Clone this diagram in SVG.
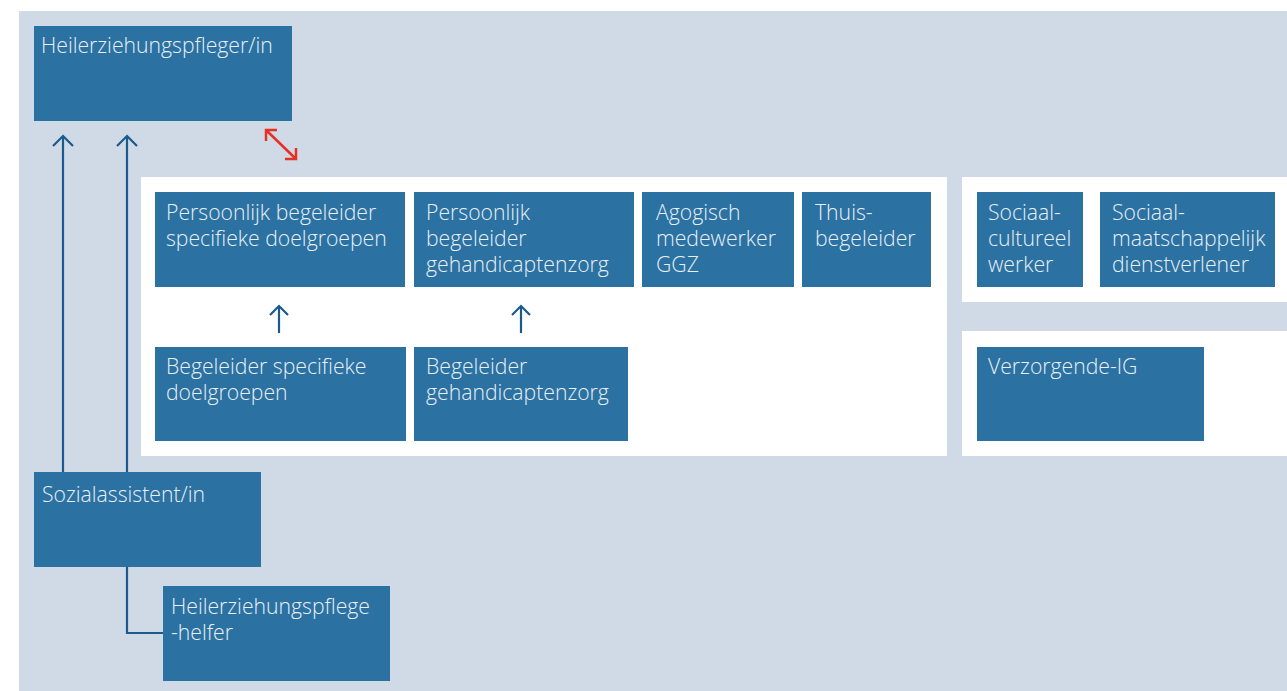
<svg xmlns="http://www.w3.org/2000/svg" width="1287" height="691" viewBox="0 0 1287 691">
<style>
.bg{fill:#D0DAE6}
.panel{fill:#FFFFFF}
.box{fill:#2B72A2}
.t{font-family:"Open Sans",Lato,"Liberation Sans",sans-serif;font-weight:300;font-size:21.2px;fill:#E9EFF6}
.c{fill:none;stroke:#1B5A8C;stroke-width:2.2}
.r{fill:none;stroke:#E62F25;stroke-width:2.5}
</style>
<rect width="1287" height="691" fill="#FFFFFF"/>
<rect class="bg" x="19" y="11" width="1268" height="680"/>
<rect class="panel" x="141" y="177" width="806" height="279"/>
<rect class="panel" x="962" y="177" width="325" height="125"/>
<rect class="panel" x="962" y="331" width="325" height="125"/>
<g id="connectors">
<path class="c" d="M63 472V136M53 146L63 136L73 146"/>
<path class="c" d="M127 472V136M117 146L127 136L137 146"/>
<path class="c" d="M127 567V633H163"/>
<path class="c" d="M279 333V306M270 315L279 306L288 315"/>
<path class="c" d="M521 333V306M512 315L521 306L530 315"/>
<path class="r" d="M266 130L296 159M266 141V130H277M296 148V159H285"/>
</g>
<g id="n-hep">
<rect class="box" x="34" y="26" width="258" height="95"/>
<text class="t" x="41" y="53">Heilerziehungspfleger/in</text>
</g>
<g id="n-pbsd">
<rect class="box" x="155" y="192" width="250" height="95"/>
<text class="t" x="166" y="220">Persoonlijk begeleider<tspan x="166" dy="26">specifieke doelgroepen</tspan></text>
</g>
<g id="n-pbg">
<rect class="box" x="414" y="192" width="220" height="95"/>
<text class="t" x="426" y="220">Persoonlijk<tspan x="426" dy="26">begeleider</tspan><tspan x="426" dy="26">gehandicaptenzorg</tspan></text>
</g>
<g id="n-agogisch">
<rect class="box" x="642" y="192" width="152" height="95"/>
<text class="t" x="656" y="220">Agogisch<tspan x="656" dy="26">medewerker</tspan><tspan x="656" dy="26">GGZ</tspan></text>
</g>
<g id="n-thuis">
<rect class="box" x="802" y="192" width="129" height="95"/>
<text class="t" x="815" y="220">Thuis-<tspan x="815" dy="26">begeleider</tspan></text>
</g>
<g id="n-scw">
<rect class="box" x="977" y="192" width="106" height="95"/>
<text class="t" x="988" y="220">Sociaal-<tspan x="988" dy="26">cultureel</tspan><tspan x="988" dy="26">werker</tspan></text>
</g>
<g id="n-smd">
<rect class="box" x="1100" y="192" width="175" height="95"/>
<text class="t" x="1112" y="220">Sociaal-<tspan x="1112" dy="26">maatschappelijk</tspan><tspan x="1112" dy="26">dienstverlener</tspan></text>
</g>
<g id="n-bsd">
<rect class="box" x="155" y="347" width="251" height="94"/>
<text class="t" x="166" y="374">Begeleider specifieke<tspan x="166" dy="26">doelgroepen</tspan></text>
</g>
<g id="n-bg">
<rect class="box" x="414" y="347" width="214" height="94"/>
<text class="t" x="426" y="374">Begeleider<tspan x="426" dy="26">gehandicaptenzorg</tspan></text>
</g>
<g id="n-vig">
<rect class="box" x="977" y="347" width="227" height="94"/>
<text class="t" x="988" y="374">Verzorgende-IG</text>
</g>
<g id="n-sa">
<rect class="box" x="34" y="472" width="227" height="95"/>
<text class="t" x="42" y="502">Sozialassistent/in</text>
</g>
<g id="n-heph">
<rect class="box" x="163" y="586" width="227" height="95"/>
<text class="t" x="171" y="614">Heilerziehungspflege<tspan x="171" dy="26">-helfer</tspan></text>
</g>
</svg>
